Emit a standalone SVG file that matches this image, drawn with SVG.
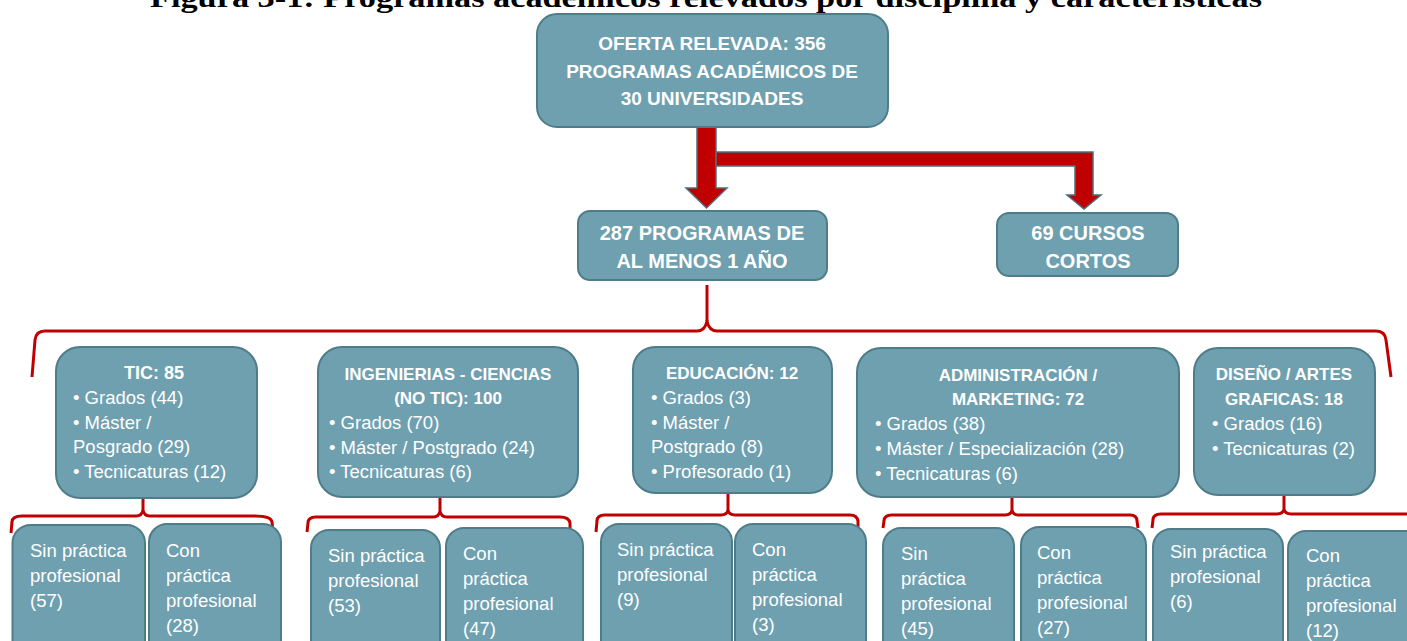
<svg xmlns="http://www.w3.org/2000/svg" width="1407" height="641" viewBox="0 0 1407 641">
<style>
.box{fill:#6fa0b0;stroke:#4f7c89;stroke-width:2}
.br{fill:none;stroke:#c00000;stroke-width:3;stroke-linejoin:round}
.arr{fill:#c00000;stroke:#4d6f7a;stroke-width:1.5;stroke-linejoin:miter}
.t1{font-family:"Liberation Sans",Arial,sans-serif;font-weight:bold;font-size:19px;fill:#fff;text-anchor:middle}
.t2{font-family:"Liberation Sans",Arial,sans-serif;font-weight:bold;font-size:20px;fill:#fff;text-anchor:middle}
.h{font-family:"Liberation Sans",Arial,sans-serif;font-weight:bold;font-size:17px;fill:#fff;text-anchor:middle}
.r{font-family:"Liberation Sans",Arial,sans-serif;font-size:18.5px;fill:#fff}
.title{font-family:"Liberation Serif","Times New Roman",serif;font-weight:bold;font-size:28px;fill:#000;text-anchor:middle}
</style>
<text class="title" x="706" y="7" textLength="1112" lengthAdjust="spacingAndGlyphs">Figura 3-1: Programas académicos relevados por disciplina y características</text>

<g id="connectors">
<path class="arr" d="M697 127 L697 188 L686 188 L706.5 208 L727 188 L716 188 L716 127 Z"/>
<path class="arr" d="M716 152 L1093 152 L1093 195 L1101 195 L1084 209 L1067 195 L1075 195 L1075 166 L716 166 Z"/>
<path class="br" d="M707 285 L707 321"/>
<path class="br" d="M32 377 L35 340 Q36 331 45 331 L697 331 Q705 331 707 321 Q709 331 717 331 L1376 331 Q1385 331 1386 340 L1391 377"/>
<path class="br" d="M143 499 L143 510 Q144 516 150 516 L255 516 Q271 516 272 522 L273 531 M143 510 Q142 516 136 516 L22 516 Q12 516 12 522 L11 533"/>
<path class="br" d="M440 498 L440 511 Q441 517 447 517 L560 517 Q569 517 570 523 L570 530 M440 511 Q439 517 433 517 L316 517 Q308 517 308 523 L307 532"/>
<path class="br" d="M728 494 L728 510 Q729 515 735 515 L850 515 Q857 515 858 521 L858 531 M728 510 Q727 515 721 515 L605 515 Q597 515 597 521 L596 532"/>
<path class="br" d="M1012 498 L1012 510 Q1013 515 1019 515 L1130 515 Q1137 515 1137 521 L1138 528 M1012 510 Q1011 515 1005 515 L892 515 Q884 515 884 521 L883 528"/>
<path class="br" d="M1284 496 L1284 509 Q1285 514 1291 514 L1410 514 M1284 509 Q1283 514 1277 514 L1161 514 Q1153 514 1153 520 L1152 528"/>
</g>

<g id="n-oferta">
<rect class="box" x="537" y="14" width="351" height="113" rx="20"/>
<text class="t1" x="712" y="50">OFERTA RELEVADA: 356</text>
<text class="t1" x="712" y="78">PROGRAMAS ACADÉMICOS DE</text>
<text class="t1" x="712" y="105">30 UNIVERSIDADES</text>
</g>

<g id="n-287">
<rect class="box" x="578" y="211" width="249" height="69" rx="12"/>
<text class="t2" x="702" y="240">287 PROGRAMAS DE</text>
<text class="t2" x="702" y="268">AL MENOS 1 AÑO</text>
</g>

<g id="n-69">
<rect class="box" x="997" y="213" width="181" height="63" rx="12"/>
<text class="t2" x="1088" y="240">69 CURSOS</text>
<text class="t2" x="1088" y="268">CORTOS</text>
</g>

<g id="n-tic">
<rect class="box" x="56" y="347" width="201" height="151" rx="24"/>
<text class="h" x="154" y="379" style="font-size:18px">TIC: 85</text>
<text class="r" x="73" y="404">• Grados (44)</text>
<text class="r" x="73" y="429">• Máster /</text>
<text class="r" x="73" y="453">Posgrado (29)</text>
<text class="r" x="73" y="478">• Tecnicaturas (12)</text>
</g>

<g id="n-ing">
<rect class="box" x="318" y="347" width="260" height="150" rx="24"/>
<text class="h" x="448" y="380">INGENIERIAS - CIENCIAS</text>
<text class="h" x="448" y="404">(NO TIC): 100</text>
<text class="r" x="329" y="429">• Grados (70)</text>
<text class="r" x="329" y="454">• Máster / Postgrado (24)</text>
<text class="r" x="329" y="478">• Tecnicaturas (6)</text>
</g>

<g id="n-edu">
<rect class="box" x="633" y="347" width="199" height="146" rx="22"/>
<text class="h" x="732" y="379">EDUCACIÓN: 12</text>
<text class="r" x="651" y="404">• Grados (3)</text>
<text class="r" x="651" y="429">• Máster /</text>
<text class="r" x="651" y="453">Postgrado (8)</text>
<text class="r" x="651" y="478">• Profesorado (1)</text>
</g>

<g id="n-adm">
<rect class="box" x="857" y="348" width="322" height="149" rx="24"/>
<text class="h" x="1018" y="381">ADMINISTRACIÓN /</text>
<text class="h" x="1018" y="405">MARKETING: 72</text>
<text class="r" x="875" y="430">• Grados (38)</text>
<text class="r" x="875" y="455">• Máster / Especialización (28)</text>
<text class="r" x="875" y="480">• Tecnicaturas (6)</text>
</g>

<g id="n-dis">
<rect class="box" x="1194" y="348" width="181" height="147" rx="24"/>
<text class="h" x="1284" y="380">DISEÑO / ARTES</text>
<text class="h" x="1284" y="405">GRAFICAS: 18</text>
<text class="r" x="1212" y="430">• Grados (16)</text>
<text class="r" x="1212" y="455">• Tecnicaturas (2)</text>
</g>

<g id="n-tic-sin">
<rect class="box" x="12.5" y="525" width="132.5" height="135" rx="18"/>
<text class="r" x="30" y="557">Sin práctica</text>
<text class="r" x="30" y="582">profesional</text>
<text class="r" x="30" y="607">(57)</text>
</g>
<g id="n-tic-con">
<rect class="box" x="149" y="524" width="132" height="136" rx="18"/>
<text class="r" x="166" y="557">Con</text>
<text class="r" x="166" y="582">práctica</text>
<text class="r" x="166" y="607">profesional</text>
<text class="r" x="166" y="632">(28)</text>
</g>

<g id="n-ing-sin">
<rect class="box" x="311" y="530" width="129" height="130" rx="18"/>
<text class="r" x="328" y="562">Sin práctica</text>
<text class="r" x="328" y="587">profesional</text>
<text class="r" x="328" y="612">(53)</text>
</g>
<g id="n-ing-con">
<rect class="box" x="446" y="528" width="137" height="132" rx="18"/>
<text class="r" x="463" y="560">Con</text>
<text class="r" x="463" y="585">práctica</text>
<text class="r" x="463" y="610">profesional</text>
<text class="r" x="463" y="635">(47)</text>
</g>

<g id="n-edu-sin">
<rect class="box" x="601" y="524" width="131" height="136" rx="18"/>
<text class="r" x="617" y="556">Sin práctica</text>
<text class="r" x="617" y="581">profesional</text>
<text class="r" x="617" y="606">(9)</text>
</g>
<g id="n-edu-con">
<rect class="box" x="735" y="524" width="131" height="136" rx="18"/>
<text class="r" x="752" y="556">Con</text>
<text class="r" x="752" y="581">práctica</text>
<text class="r" x="752" y="606">profesional</text>
<text class="r" x="752" y="631">(3)</text>
</g>

<g id="n-adm-sin">
<rect class="box" x="883" y="528" width="131" height="132" rx="18"/>
<text class="r" x="901" y="560">Sin</text>
<text class="r" x="901" y="585">práctica</text>
<text class="r" x="901" y="610">profesional</text>
<text class="r" x="901" y="635">(45)</text>
</g>
<g id="n-adm-con">
<rect class="box" x="1021" y="527" width="125" height="133" rx="18"/>
<text class="r" x="1037" y="559">Con</text>
<text class="r" x="1037" y="584">práctica</text>
<text class="r" x="1037" y="609">profesional</text>
<text class="r" x="1037" y="634">(27)</text>
</g>

<g id="n-dis-sin">
<rect class="box" x="1153" y="529" width="130" height="131" rx="18"/>
<text class="r" x="1170" y="558">Sin práctica</text>
<text class="r" x="1170" y="583">profesional</text>
<text class="r" x="1170" y="608">(6)</text>
</g>
<g id="n-dis-con">
<rect class="box" x="1288" y="531" width="135" height="129" rx="18"/>
<text class="r" x="1306" y="562">Con</text>
<text class="r" x="1306" y="587">práctica</text>
<text class="r" x="1306" y="612">profesional</text>
<text class="r" x="1306" y="637">(12)</text>
</g>
</svg>
